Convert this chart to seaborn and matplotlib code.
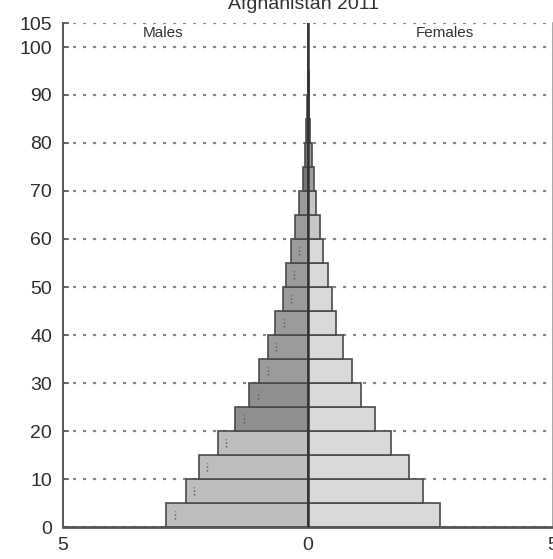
import matplotlib
matplotlib.use("Agg")
import matplotlib.pyplot as plt
import numpy as np
import pandas as pd
import seaborn as sns

# age groups (lower bound of each 5-year band) and share of population in %
age_groups = [0, 5, 10, 15, 20, 25, 30, 35, 40, 45, 50, 55, 60, 65, 70, 75, 80, 85, 90, 95, 100]
males = [2.89, 2.49, 2.23, 1.84, 1.48, 1.20, 0.99, 0.82, 0.67, 0.52, 0.45, 0.35,
         0.27, 0.18, 0.11, 0.07, 0.04, 0.02, 0.01, 0.005, 0.002]
females = [2.69, 2.34, 2.07, 1.69, 1.37, 1.09, 0.89, 0.72, 0.57, 0.49, 0.40, 0.30,
           0.24, 0.16, 0.13, 0.09, 0.05, 0.025, 0.012, 0.005, 0.002]
y_ticks = [0, 10, 20, 30, 40, 50, 60, 70, 80, 90, 100, 105]
x_ticks = [-5, 0, 5]
x_tick_labels = ["5", "0", "5"]
title = "Afghanistan 2011"


def band_color(age, side):
    """Grey shade for a bar, darker for the older bands."""
    if side == "m":
        if age < 20:
            return "#bdbdbd"
        if age < 30:
            return "#8f8f8f"
        if age < 70:
            return "#9b9b9b"
        return "#767676"
    if age < 60:
        return "#d9d9d9"
    if age < 70:
        return "#c6c6c6"
    return "#9e9e9e"


df = pd.DataFrame({"age": np.array(age_groups) + 2.5,
                   "males": -np.array(males),
                   "females": females})

plt.rcParams["font.family"] = ["Liberation Sans", "DejaVu Sans"]
fig = plt.figure(figsize=(5.53, 5.59), dpi=100)
ax = fig.add_axes([63 / 553, 32 / 559, 490 / 553, 504 / 559])

# dotted horizontal grid behind the bars
for t in y_ticks:
    ax.axhline(t, color="#8a8a8a", lw=1.6, ls=(0, (1.4, 3.1)), zorder=0)

edge = dict(edgecolor="#4a4a4a", linewidth=1.2)
sns.barplot(data=df, x="males", y="age", orient="y", native_scale=True,
            width=1, errorbar=None, ax=ax, zorder=2, **edge)
n_male = len(ax.patches)
sns.barplot(data=df, x="females", y="age", orient="y", native_scale=True,
            width=1, errorbar=None, ax=ax, zorder=2, **edge)

for i, p in enumerate(ax.patches):
    side = "m" if i < n_male else "f"
    age = age_groups[i % n_male]
    p.set_facecolor(band_color(age, side))

# small dotted marks just inside the male bars
for a, m in zip(age_groups[:12], males[:12]):
    ax.plot([-m + 0.17] * 2, [a + 1.6, a + 3.4], ls=":", color="#555555", lw=1, zorder=3)

ax.axvline(0, color="#333333", lw=1.8, zorder=4)

ax.set_xlim(-5, 5)
ax.set_ylim(0, 105)
ax.set_yticks(y_ticks)
ax.set_xticks(x_ticks)
ax.set_xticklabels(x_tick_labels)
ax.tick_params(axis="y", direction="in", length=4, width=1.2, color="#555555",
               labelsize=14, pad=8, labelcolor="#2e2e2e")
ax.tick_params(axis="x", length=0, labelsize=14, pad=7, labelcolor="#2e2e2e")
ax.set_xlabel("")
ax.set_ylabel("")

sns.despine(ax=ax, top=True, right=False)
ax.spines["left"].set_color("#555555")
ax.spines["left"].set_linewidth(1.4)
ax.spines["bottom"].set_color("#555555")
ax.spines["bottom"].set_linewidth(2)
ax.spines["right"].set_color("#9a9a9a")
ax.spines["right"].set_linewidth(1.2)

ax.text(-2.95, 103.0, "Males", ha="center", va="center", fontsize=11, color="#333333")
ax.text(2.8, 103.0, "Females", ha="center", va="center", fontsize=11, color="#333333")

# title sits mostly above the cropped top edge
fig.text(303 / 553, 1 - 9 / 559, title, ha="center", va="baseline",
         fontsize=14, color="#333333")

fig.savefig("out.png", dpi=100)
